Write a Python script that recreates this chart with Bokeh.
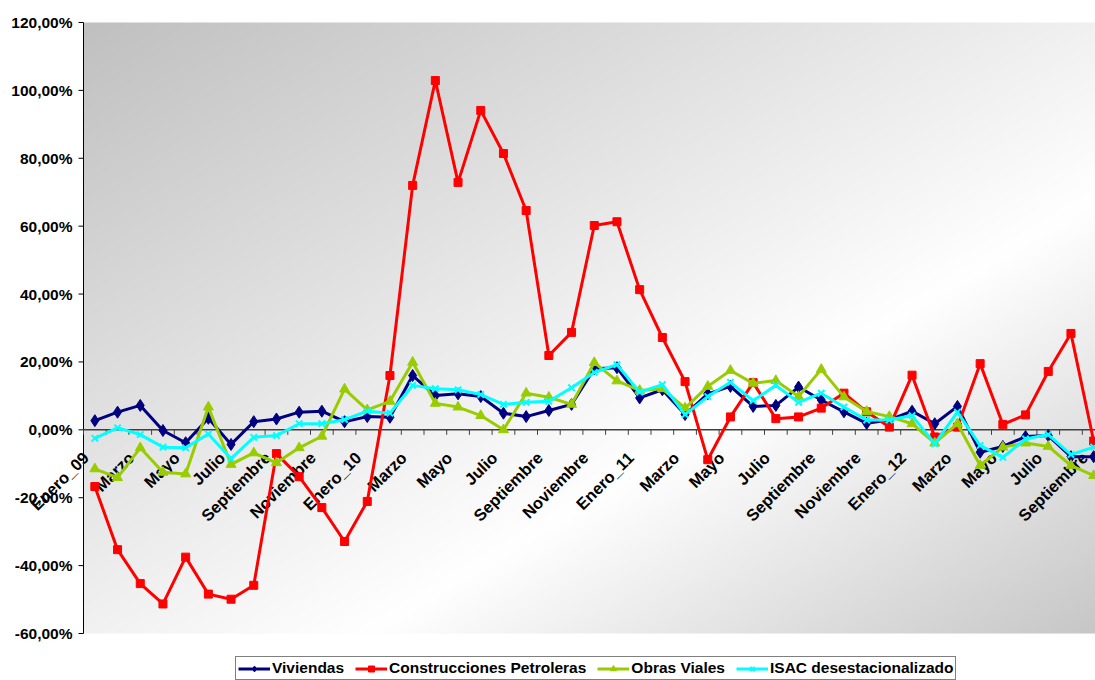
import numpy as np
from bokeh.plotting import figure
from bokeh.models import Range1d, Legend, LegendItem
from bokeh.core.properties import value
from bokeh.embed import file_html
from bokeh.resources import INLINE

# Monthly categories, January 2009 to September 2012
categorias = [
    "Enero_09", "Febrero", "Marzo", "Abril", "Mayo", "Junio", "Julio", "Agosto",
    "Septiembre", "Octubre", "Noviembre", "Diciembre",
    "Enero_10", "Febrero", "Marzo", "Abril", "Mayo", "Junio", "Julio", "Agosto",
    "Septiembre", "Octubre", "Noviembre", "Diciembre",
    "Enero_11", "Febrero", "Marzo", "Abril", "Mayo", "Junio", "Julio", "Agosto",
    "Septiembre", "Octubre", "Noviembre", "Diciembre",
    "Enero_12", "Febrero", "Marzo", "Abril", "Mayo", "Junio", "Julio", "Agosto",
    "Septiembre",
]

# Year-on-year variation, in percent
viviendas = [2.7, 5.2, 7.2, -0.2, -3.8, 3.4, -4.3, 2.4, 3.2, 5.2, 5.5, 2.4,
             3.9, 3.7, 16.0, 10.1, 10.6, 9.8, 4.9, 3.9, 5.7, 7.5, 18.0, 18.3,
             9.4, 11.8, 4.5, 10.6, 12.8, 6.9, 7.2, 12.6, 8.8, 5.3, 1.9, 2.9,
             5.5, 1.8, 6.9, -6.6, -4.9, -2.0, -1.7, -7.9, -7.9]
petroleras = [-16.7, -35.3, -45.3, -51.3, -37.5, -48.4, -49.9, -45.8, -7.0, -13.8,
              -22.9, -32.9, -21.1, 16.0, 72.0, 102.9, 72.9, 94.1, 81.4, 64.6,
              21.9, 28.7, 60.2, 61.3, 41.3, 27.2, 14.2, -8.8, 3.8, 13.9, 3.3,
              3.8, 6.4, 10.8, 5.3, 0.8, 16.1, -2.1, 0.8, 19.5, 1.6, 4.4, 17.2,
              28.4, -3.3]
viales = [-11.5, -14.1, -5.3, -12.5, -13.0, 6.7, -10.2, -6.8, -9.7, -5.3, -1.9,
          12.0, 5.9, 8.4, 19.9, 7.8, 6.7, 4.2, 0.0, 10.8, 9.6, 7.5, 19.8, 14.4,
          11.6, 12.1, 6.4, 12.8, 17.5, 13.7, 14.5, 9.8, 17.8, 9.7, 5.4, 3.9,
          1.8, -3.9, 1.8, -10.5, -5.1, -3.9, -4.9, -10.5, -13.5]
isac = [-2.5, 0.6, -1.4, -5.1, -5.3, -1.2, -8.5, -2.2, -1.7, 1.8, 1.8, 3.0, 5.5,
        4.9, 13.1, 12.1, 11.8, 10.4, 7.5, 8.1, 8.4, 12.4, 16.9, 19.2, 11.1, 13.3,
        4.5, 9.8, 14.0, 8.6, 13.1, 8.1, 10.8, 6.7, 2.9, 2.9, 4.2, -4.1, 5.2,
        -4.6, -8.1, -2.7, -1.4, -7.3, -5.1]

y_ticks = [-60, -40, -20, 0, 20, 40, 60, 80, 100, 120]
y_tick_labels = ["-60,00%", "-40,00%", "-20,00%", "0,00%", "20,00%", "40,00%",
                 "60,00%", "80,00%", "100,00%", "120,00%"]

FONT = "Liberation Sans"
FSIZE = "15.5px"
XFSIZE = "16.5px"

# Canvas geometry (pixels)
WIDTH, HEIGHT = 1095, 680
AREA_LEFT, AREA_TOP, AREA_BOTTOM = 83, 22, 633
PX_PER_CAT = 22.70
Y0, Y1 = -60, 120
PX_PER_UNIT = (AREA_BOTTOM - AREA_TOP) / (Y1 - Y0)

x = list(range(len(categorias)))
x_lo = -0.5
x_start = x_lo - AREA_LEFT / PX_PER_CAT
y_end = Y1 + AREA_TOP / PX_PER_UNIT

p = figure(width=WIDTH, height=HEIGHT, output_backend="svg", toolbar_location=None,
           x_range=Range1d(x_start, x_start + WIDTH / PX_PER_CAT),
           y_range=Range1d(y_end - HEIGHT / PX_PER_UNIT, y_end),
           x_axis_location=None, y_axis_location=None, min_border=0)
p.outline_line_color = None
p.grid.visible = False
p.background_fill_color = "white"
p.border_fill_color = "white"

# Diagonal grey-white-grey fill of the plot area
H, W = 300, 600
fx = np.linspace(0, 1, W)[None, :]
fy = np.linspace(1, 0, H)[:, None]
t = (fx + fy) / 2
peak = 0.64
g = np.where(t < peak, 192 + 63 * t / peak, 255 - 57 * (t - peak) / (1 - peak))
img = np.empty((H, W), dtype=np.uint32)
view = img.view(dtype=np.uint8).reshape(H, W, 4)
view[..., 0] = g
view[..., 1] = g
view[..., 2] = g
view[..., 3] = 255
p.image_rgba(image=[img], x=x_lo, y=Y0, dw=len(categorias), dh=Y1 - Y0, level="image")

# Value axis: line, outward ticks and labels
tick_dx = 5 / PX_PER_CAT
p.segment(x0=[x_lo], y0=[Y0], x1=[x_lo], y1=[Y1], line_color="black", line_width=1)
p.segment(x0=[x_lo - tick_dx] * len(y_ticks), y0=y_ticks, x1=[x_lo] * len(y_ticks),
          y1=y_ticks, line_color="black", line_width=1)
p.text(x=[x_lo] * len(y_ticks), y=y_ticks, text=y_tick_labels, x_offset=-11,
       text_align="right", text_baseline="middle", text_font=value(FONT),
       text_font_style="bold", text_font_size=FSIZE, text_color="black")

# Category axis crossing at zero: baseline plus tick marks between months
tick_x = [i - 0.5 for i in range(len(categorias) + 1)]
tick_dy = 5 / PX_PER_UNIT
p.segment(x0=[x_lo], y0=[0], x1=[tick_x[-1]], y1=[0], line_color="#404040",
          line_width=1.5)
p.segment(x0=tick_x, y0=[0] * len(tick_x), x1=tick_x, y1=[-tick_dy] * len(tick_x),
          line_color="#404040", line_width=1)

lab_idx = x[::2]
p.text(x=lab_idx, y=[0] * len(lab_idx), text=[categorias[i] for i in lab_idx],
       angle=np.pi / 4, text_align="right", text_baseline="middle",
       x_offset=-9, y_offset=25, text_font=value(FONT), text_font_style="bold",
       text_font_size=XFSIZE, text_color="black")

series = [
    ("Viviendas", viviendas, "#000080", "diamond", 12),
    ("Construcciones Petroleras", petroleras, "#FF0000", "square", 8),
    ("Obras Viales", viales, "#99CC00", "triangle", 10),
    ("ISAC desestacionalizado", isac, "#00FFFF", "x", 9),
]
items = []
for name, vals, col, mk, sz in series:
    ln = p.line(x, vals, line_color=col, line_width=3)
    sc = p.scatter(x, vals, marker=mk, size=sz, fill_color=col, line_color=col,
                   line_width=2 if mk == "x" else 1)
    items.append(LegendItem(label=name, renderers=[ln, sc]))

legend = Legend(items=items, orientation="horizontal", location=(235, 0),
                label_text_font=FONT, label_text_font_style="bold",
                label_text_font_size=FSIZE, label_text_color="black",
                glyph_width=32, glyph_height=15, label_height=15,
                label_standoff=2, spacing=11, padding=2, margin=0,
                border_line_color="black", border_line_width=1,
                background_fill_color="white", background_fill_alpha=1)
p.add_layout(legend, "center")

open("out.html", "w").write(file_html(p, INLINE))
